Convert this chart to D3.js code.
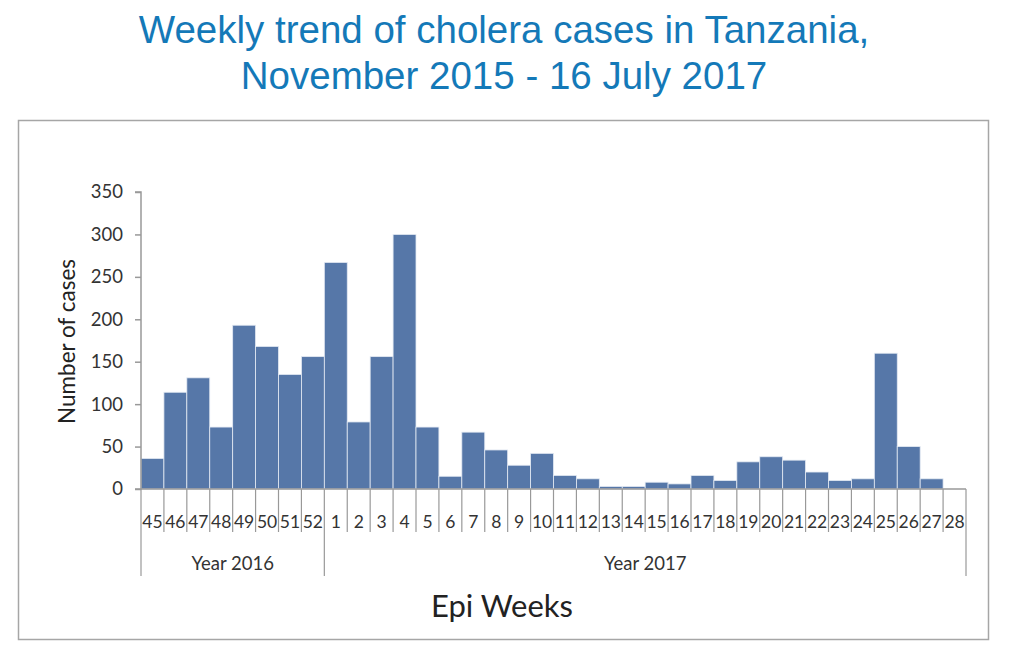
<!DOCTYPE html>
<html>
<head>
<meta charset="utf-8">
<script src="https://cdn.jsdelivr.net/npm/d3@7"></script>
<style>
  body { margin: 0; background: #fff; }
  svg text { font-family: Lato, "Open Sans", sans-serif; }
</style>
</head>
<body>
<svg id="chart"></svg>
<script>
// Epi weeks and cases
const weeks2016 = ["45","46","47","48","49","50","51","52"];
const cases2016 = [36, 114, 131, 73, 193, 168, 135, 156];
const weeks2017 = ["1","2","3","4","5","6","7","8","9","10","11","12","13","14",
  "15","16","17","18","19","20","21","22","23","24","25","26","27","28"];
const cases2017 = [267, 79, 156, 300, 73, 15, 67, 46, 28, 42, 16, 12, 3, 3,
  8, 6, 16, 10, 32, 38, 34, 20, 10, 12, 160, 50, 12, 0];
const yTicks = [0, 50, 100, 150, 200, 250, 300, 350];
const groups = [
  { name: "Year 2016", weeks: weeks2016, cases: cases2016 },
  { name: "Year 2017", weeks: weeks2017, cases: cases2017 }
];

const data = [];
groups.forEach(g => g.weeks.forEach((w, i) => {
  data.push({ key: g.name + "-" + w, week: w, group: g.name, value: g.cases[i] });
}));

const svgW = 1010, svgH = 668;
const svg = d3.select("#chart").attr("width", svgW).attr("height", svgH);

// Title
const title = svg.append("text")
  .attr("text-anchor", "middle")
  .style("font-family", "'Liberation Sans', Arial, sans-serif")
  .style("font-size", "38.5px")
  .style("fill", "#1479b8");
title.append("tspan").attr("x", 504).attr("y", 43).text("Weekly trend of cholera cases in Tanzania,");
title.append("tspan").attr("x", 504).attr("y", 89).text("November 2015 - 16 July 2017");

// Frame
svg.append("rect")
  .attr("x", 18.5).attr("y", 120.5)
  .attr("width", 970).attr("height", 519)
  .attr("fill", "none")
  .attr("stroke", "#a6a6a6")
  .attr("stroke-width", 1.5);

const plotL = 141, plotR = 966, plotT = 192, plotB = 489;

const x = d3.scaleBand()
  .domain(data.map(d => d.key))
  .range([plotL, plotR])
  .padding(0);

const y = d3.scaleLinear()
  .domain([0, 350])
  .range([plotB, plotT]);

// Bars
svg.append("g")
  .selectAll("rect")
  .data(data)
  .join("rect")
  .attr("x", d => x(d.key))
  .attr("y", d => y(d.value))
  .attr("width", x.bandwidth())
  .attr("height", d => y(0) - y(d.value))
  .attr("fill", "#5677a8")
  .attr("stroke", "#e4eaf3")
  .attr("stroke-width", 0.8);

// Y axis
const yAxis = svg.append("g")
  .attr("transform", `translate(${plotL},0)`)
  .call(d3.axisLeft(y).tickValues(yTicks).tickSize(6).tickPadding(12));
yAxis.selectAll("path, line").attr("stroke", "#999").attr("stroke-width", 1.5);
yAxis.select(".domain").attr("d", `M-6,${y(0)}H0V${y(350)}H-6`);
yAxis.selectAll("text")
  .style("font-size", "18.5px")
  .style("fill", "#333")
  .style("font-family", "Lato, 'Open Sans', sans-serif");

svg.append("text")
  .attr("transform", `translate(75,${(plotT + plotB) / 2 + 1}) rotate(-90)`)
  .attr("text-anchor", "middle")
  .style("font-size", "22.5px")
  .style("fill", "#222")
  .text("Number of cases");

// X axis baseline
const xg = svg.append("g");
xg.append("line")
  .attr("x1", plotL).attr("x2", plotR)
  .attr("y1", plotB).attr("y2", plotB)
  .attr("stroke", "#999").attr("stroke-width", 1.5);

// Category boundaries
const bounds = data.map(d => x(d.key)).concat([plotR]);
xg.selectAll("line.tick")
  .data(bounds)
  .join("line")
  .attr("class", "tick")
  .attr("x1", d => d).attr("x2", d => d)
  .attr("y1", plotB).attr("y2", 532)
  .attr("stroke", "#999").attr("stroke-width", 1.2);

// Week labels
xg.selectAll("text.week")
  .data(data)
  .join("text")
  .attr("class", "week")
  .attr("x", d => x(d.key) + x.bandwidth() / 2)
  .attr("y", 528)
  .attr("text-anchor", "middle")
  .style("font-size", "17.5px")
  .style("fill", "#333")
  .text(d => d.week);

// Group separators and labels
const groupEdges = [x(groups[0].name + "-" + weeks2016[0]),
  x(groups[1].name + "-" + weeks2017[0]), plotR];
xg.selectAll("line.group")
  .data(groupEdges)
  .join("line")
  .attr("class", "group")
  .attr("x1", d => d).attr("x2", d => d)
  .attr("y1", 532).attr("y2", 576)
  .attr("stroke", "#999").attr("stroke-width", 1.2);

xg.selectAll("text.group")
  .data(groups)
  .join("text")
  .attr("class", "group")
  .attr("x", (g, i) => (groupEdges[i] + groupEdges[i + 1]) / 2)
  .attr("y", 570)
  .attr("text-anchor", "middle")
  .style("font-size", "18.5px")
  .style("fill", "#333")
  .text(g => g.name);

svg.append("text")
  .attr("x", 502)
  .attr("y", 617)
  .attr("text-anchor", "middle")
  .style("font-size", "31px")
  .style("fill", "#222")
  .text("Epi Weeks");
</script>
</body>
</html>
